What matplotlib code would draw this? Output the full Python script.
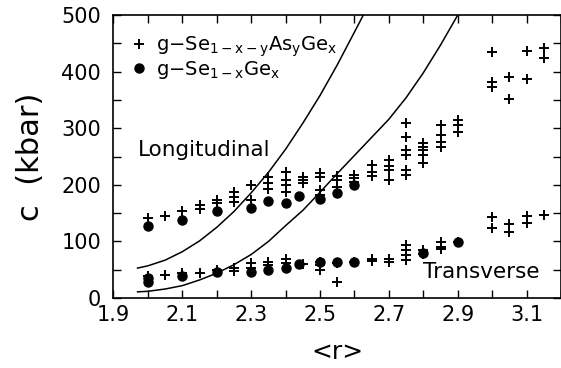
import matplotlib
matplotlib.use('Agg')
import matplotlib.pyplot as plt
import numpy as np

plt.rcParams['font.family'] = ['DejaVu Sans']
plt.rcParams['mathtext.fontset'] = 'dejavusans'

# g-Se(1-x-y)As(y)Ge(x): longitudinal branch (plus markers)
rL_plus = [2.0, 2.05, 2.1, 2.15, 2.15, 2.2, 2.2, 2.25, 2.25, 2.25, 2.3, 2.3,
           2.35, 2.35, 2.35, 2.4, 2.4, 2.4, 2.4, 2.45, 2.45, 2.45,
           2.5, 2.5, 2.5, 2.5, 2.55, 2.55, 2.55, 2.6, 2.6, 2.6,
           2.65, 2.65, 2.65, 2.7, 2.7, 2.7, 2.7,
           2.75, 2.75, 2.75, 2.75, 2.75, 2.75,
           2.8, 2.8, 2.8, 2.8, 2.8, 2.85, 2.85, 2.85, 2.85, 2.9, 2.9, 2.9,
           3.0, 3.0, 3.0, 3.05, 3.05, 3.1, 3.1, 3.15, 3.15]
cL_plus = [141, 145, 154, 164, 157, 173, 168, 187, 178, 170, 200, 173,
           214, 203, 193, 222, 208, 200, 187, 214, 208, 203,
           221, 214, 191, 182, 216, 208, 196, 217, 212, 205,
           235, 222, 216, 244, 233, 226, 208,
           309, 285, 261, 253, 226, 217,
           274, 267, 261, 253, 238, 306, 288, 276, 267, 314, 306, 293,
           435, 382, 373, 391, 352, 437, 387, 442, 424]

# g-Se(1-x)Ge(x): longitudinal branch (dots)
rL_dot = [2.0, 2.1, 2.2, 2.3, 2.35, 2.4, 2.44, 2.5, 2.55, 2.6]
cL_dot = [128, 138, 154, 159, 171, 168, 180, 175, 186, 199]

# transverse branch
rT_plus = [2.0, 2.05, 2.1, 2.15, 2.2, 2.25, 2.25, 2.3, 2.3, 2.35, 2.35,
           2.4, 2.4, 2.45, 2.5, 2.5, 2.5, 2.55, 2.55, 2.6, 2.65, 2.65,
           2.7, 2.7, 2.75, 2.75, 2.75, 2.75, 2.8, 2.8, 2.85, 2.85, 2.85, 2.9,
           3.0, 3.0, 3.05, 3.05, 3.1, 3.1, 3.15]
cT_plus = [39, 41, 44, 44, 49, 53, 48, 62, 53, 64, 58,
           69, 62, 60, 64, 58, 49, 62, 28, 64, 69, 66,
           69, 64, 94, 85, 76, 67, 85, 78, 99, 90, 86, 99,
           143, 124, 131, 117, 145, 132, 147]
rT_dot = [2.0, 2.0, 2.1, 2.2, 2.3, 2.35, 2.4, 2.44, 2.5, 2.55, 2.6, 2.8, 2.9]
cT_dot = [35, 29, 39, 46, 46, 49, 53, 60, 64, 64, 64, 80, 99]

# model curves
r_long = [1.97, 2.0, 2.05, 2.1, 2.15, 2.2, 2.25, 2.3, 2.35, 2.4, 2.45, 2.5, 2.55, 2.6, 2.63]
c_long = [53, 57, 67, 82, 101, 125, 153, 186, 222, 263, 309, 358, 412, 470, 505]
r_trans = [1.97, 2.0, 2.05, 2.1, 2.15, 2.2, 2.25, 2.3, 2.35, 2.4, 2.45, 2.5,
           2.55, 2.6, 2.65, 2.7, 2.75, 2.8, 2.85, 2.9]
c_trans = [11, 12, 16, 22, 32, 44, 59, 77, 100, 128, 155, 187,
           220, 252, 284, 316, 354, 398, 447, 500]

fig = plt.figure(figsize=(5.61, 3.68), dpi=100)
ax = fig.add_axes([0.2023, 0.19, 0.7977, 0.769])

ax.plot(r_long, c_long, color='black', lw=1.1)
ax.plot(r_trans, c_trans, color='black', lw=1.1)

ax.plot(rL_plus + rT_plus, cL_plus + cT_plus, linestyle='none', marker='+',
        ms=7, mew=1.4, color='black', label='g−Se$_{\\mathrm{1−x−y}}$As$_{\\mathrm{y}}$Ge$_{\\mathrm{x}}$')
ax.plot(rL_dot + rT_dot, cL_dot + cT_dot, linestyle='none', marker='o',
        ms=6.5, color='black', label='g−Se$_{\\mathrm{1−x}}$Ge$_{\\mathrm{x}}$')

ax.text(1.971, 261, 'Longitudinal', fontsize=15.5, va='center', ha='left')
ax.text(2.798, 46, 'Transverse', fontsize=15.5, va='center', ha='left')

ax.set_xlim(1.9, 3.2)
ax.set_ylim(0, 500)
xt = np.round(np.arange(1.9, 3.21, 0.1), 1)
ax.set_xticks(xt)
ax.set_xticklabels([('%.1f' % v) if i % 2 == 0 else '' for i, v in enumerate(xt)])
yt = np.arange(0, 501, 50)
ax.set_yticks(yt)
ax.set_yticklabels([str(v) if v % 100 == 0 else '' for v in yt])
ax.tick_params(direction='in', length=6, width=1, top=True, right=True, labelsize=15)
ax.tick_params(axis='x', pad=5)
ax.tick_params(axis='y', pad=9)
for s in ax.spines.values():
    s.set_linewidth(1.2)

ax.set_xlabel('<r>', fontsize=18, labelpad=11)
ax.set_ylabel('c  (kbar)', fontsize=22, labelpad=12)

ax.legend(loc='upper left', frameon=False, fontsize=14, handlelength=0.6,
          handletextpad=0.6, labelspacing=0.0, borderaxespad=0.6,
          borderpad=0.4, numpoints=1)

fig.savefig('out.png', dpi=100)
